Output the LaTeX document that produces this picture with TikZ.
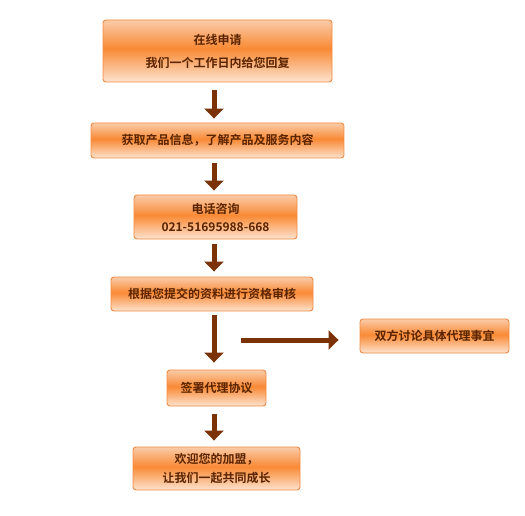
\documentclass[tikz,border=0pt]{standalone}
\usepackage{fontspec}
\newfontfamily\cjk{Noto Sans CJK SC}[BoldFont={Noto Sans CJK SC Bold}]
\usetikzlibrary{arrows.meta}
\definecolor{gtop}{HTML}{FACBA8}
\definecolor{gmid}{HTML}{F98A35}
\definecolor{gbot}{HTML}{FDE3CF}
\definecolor{bordc}{HTML}{F08A42}
\definecolor{arrc}{HTML}{7A3206}
\definecolor{txtc}{HTML}{5A2400}
\pgfdeclareverticalshading{boxgrad}{100bp}{color(0bp)=(gbot); color(25bp)=(gbot); color(52bp)=(gmid); color(75bp)=(gtop); color(100bp)=(gtop)}
\tikzset{
  flowbox/.style={draw=bordc, line width=0.9pt, rounded corners=3pt, shading=boxgrad,
    inner sep=0pt, align=center, text=txtc, font=\cjk\bfseries\fontsize{12pt}{23pt}\selectfont},
  arr/.style={draw=arrc, line width=5pt, -{Triangle[width=19pt,length=10pt]}}
}
\begin{document}
\begin{tikzpicture}[x=1pt,y=-1pt]
\useasboundingbox (0,0) rectangle (525,516);
\coordinate (ax) at (214,0);
\node[flowbox, minimum width=229pt, minimum height=62pt] (b1) at (217.5,51)
  {在线申请\\我们一个工作日内给您回复};
\node[flowbox, minimum width=253pt, minimum height=35pt] (b2) at (217.5,140.5)
  {获取产品信息，了解产品及服务内容};
\node[flowbox, minimum width=163pt, minimum height=44pt, font=\cjk\bfseries\fontsize{12pt}{18pt}\selectfont] (b3) at (215.5,217)
  {电话咨询\\021-51695988-668};
\node[flowbox, minimum width=202pt, minimum height=34pt] (b4) at (212,294)
  {根据您提交的资料进行资格审核};
\node[flowbox, minimum width=149pt, minimum height=34pt] (r) at (434.5,336)
  {双方讨论具体代理事宜};
\node[flowbox, minimum width=99pt, minimum height=36pt] (b5) at (216.5,388)
  {签署代理协议};
\node[flowbox, minimum width=167pt, minimum height=43pt, font=\cjk\bfseries\fontsize{12pt}{19pt}\selectfont] (b6) at (216.5,468.5)
  {欢迎您的加盟，\\让我们一起共同成长};
\draw[arr, shorten <=8pt, shorten >=4pt] (b1.south -| ax) -- (b2.north -| ax);
\draw[arr, shorten <=5pt, shorten >=4pt] (b2.south -| ax) -- (b3.north -| ax);
\draw[arr, shorten <=5pt, shorten >=5pt] (b3.south -| ax) -- (b4.north -| ax);
\draw[arr, shorten <=4pt, shorten >=7pt] (b4.south -| ax) -- (b5.north -| ax);
\draw[arr, shorten <=8pt, shorten >=6pt] (b5.south -| ax) -- (b6.north -| ax);
\coordinate (hs) at (241,340);
\draw[arr, shorten >=21pt] (hs) -- (r.west |- hs);
\end{tikzpicture}
\end{document}
